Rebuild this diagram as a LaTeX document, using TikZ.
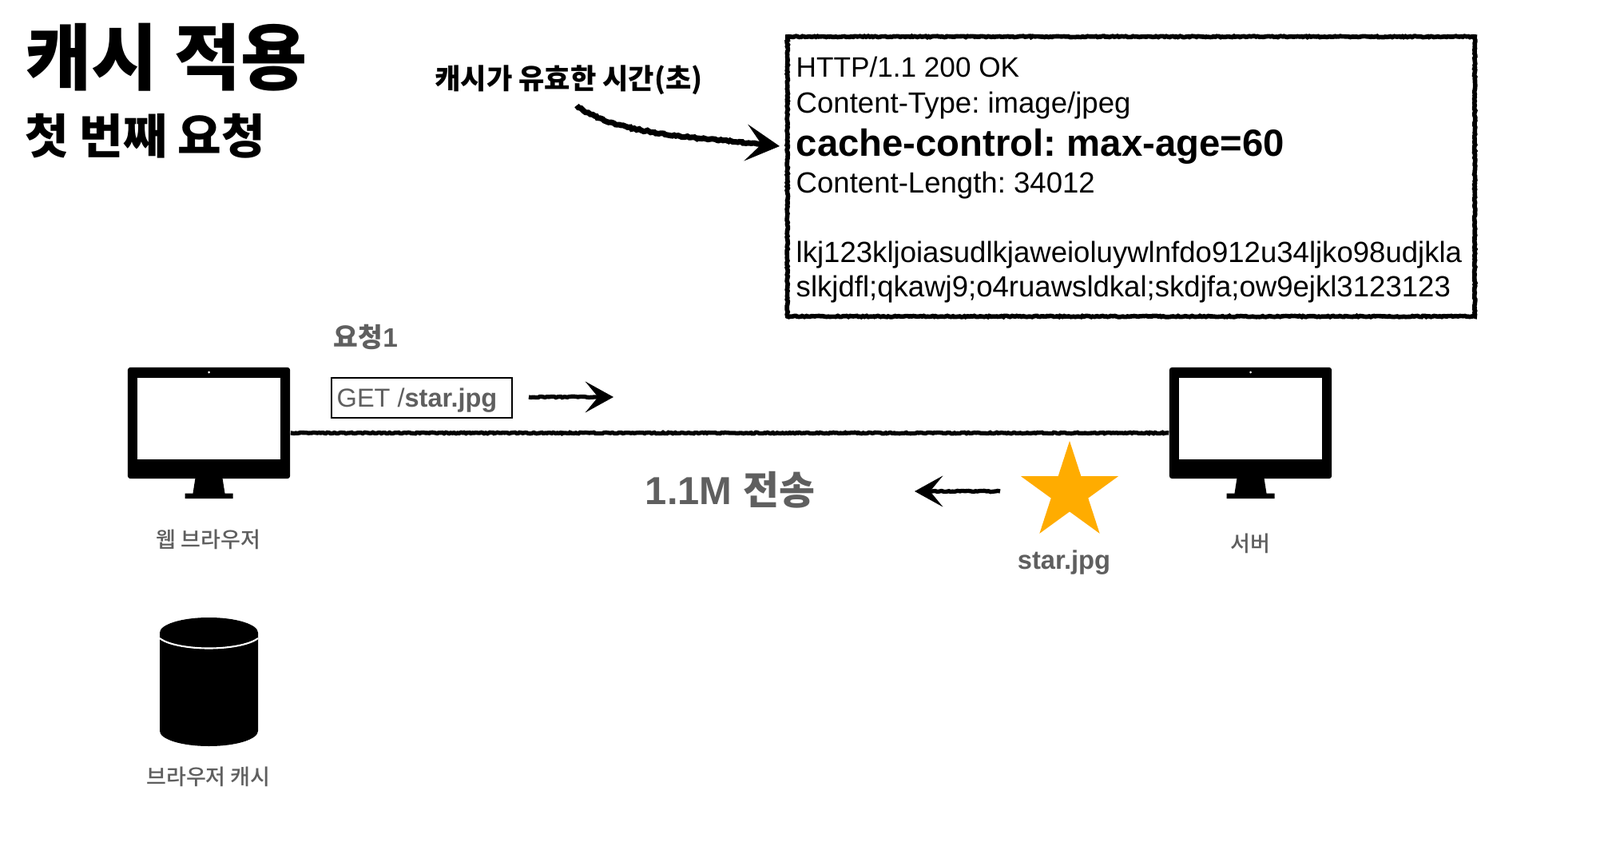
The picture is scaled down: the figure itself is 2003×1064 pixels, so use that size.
\documentclass[tikz,border=0pt]{standalone}
\usepackage{xcolor}
\usepackage{fontspec}
\usetikzlibrary{arrows.meta,positioning,shapes.geometric,decorations.pathmorphing}
\setmainfont{Liberation Sans}
\newfontfamily\kor{Noto Sans CJK KR}
\newfontfamily\korm{Noto Sans CJK KR Medium}
\definecolor{lbl}{HTML}{5F5F5F}
\definecolor{starfill}{HTML}{FFAC00}
\newcommand{\fs}[1]{\fontsize{#1}{#1}\selectfont}
\frenchspacing
\tikzset{
  panel/.style={fill=black,rounded corners=.03cm,minimum width=2.03cm,minimum height=1.39cm,inner sep=0},
  screen/.style={fill=white,minimum width=1.79cm,minimum height=1.02cm,inner sep=0},
  rough/.style={decorate,decoration={random steps,segment length=.6pt,amplitude=.2pt}},
  roughline/.style={rough,line width=1.5pt},
  roughtip/.style={line width=1.5pt,decorate,decoration={random steps,segment length=.8pt,amplitude=.2pt,post=lineto,post length=6pt},-{Stealth[length=10pt,width=11pt,inset=4.5pt]}},
  bigtip/.style={line width=2pt,decorate,decoration={random steps,segment length=.8pt,amplitude=.3pt,post=lineto,post length=8pt},-{Stealth[length=12pt,width=13pt,inset=5.5pt]}},
  resp/.style={anchor=base west,inner sep=0,font=\fs{10.4}},
  gray/.style={text=lbl,inner sep=0},
  pics/monitor/.style={code={
    \node[panel] (panel) at (0,0) {};
    \node[screen] (screen) at (0,-5.5) {};
    \fill[white] (0,-63.5) circle (.015cm);
    \fill[black] (-17,69) -- (17,69) -- (20,88) -- (30,88) -- (30,94.5) -- (-30,94.5) -- (-30,88) -- (-20,88) -- cycle;
  }}
}
\begin{document}
\begin{tikzpicture}[x=.01cm,y=-.01cm]
  \useasboundingbox[fill=white] (0,0) rectangle (2003,1064);
  \node[anchor=west,inner sep=0,font=\kor\bfseries\fs{25.7}] (title) at (31,72) {캐시 적용};
  \node[anchor=west,inner sep=0,font=\kor\bfseries\fs{16.9}] (subtitle) at (31,170) {첫 번째 요청};
  \node[inner sep=0,font=\kor\bfseries\fs{10}] (ttl) at (712,100) {캐시가 유효한 시간(초)};

  \node[draw,rough,line width=1.6pt,minimum width=8.60cm,minimum height=3.50cm,inner sep=0] (respbox) at (1416,221) {};
  \node[resp,font=\fs{10}] (status) at (996,97) {HTTP/1.1 200 OK};
  \node[resp] (ctype) at (996,142) {Content-Type: image/jpeg};
  \node[resp,font=\fs{13.45}\bfseries] (cache) at (996,196) {cache-control: max-age=60};
  \node[resp] (clen) at (996,242) {Content-Length: 34012};
  \node[resp] (body1) at (996,329) {lkj123kljoiasudlkjaweioluywlnfdo912u34ljko98udjkla};
  \node[resp] (body2) at (996,372) {slkjdfl;qkawj9;o4ruawsldkal;skdjfa;ow9ejkl3123123};

  \coordinate (ttlfrom) at (722,132);
  \coordinate (ttlto) at (976,183);
  \draw[bigtip] (ttlfrom) .. controls (770,170) and (880,172) .. (ttlto);

  \pic (browser) at (261.5,529.5) {monitor};
  \pic (server) at (1565.5,529.5) {monitor};
  \draw[roughline] ([yshift=-.125cm]browserpanel.east) -- ([yshift=-.125cm]serverpanel.west);

  \node[gray,font=\kor\bfseries\fs{9.5}] (req) at (458,422) {요청{\rmfamily 1}};
  \node[draw=black,line width=.6pt,minimum width=2.26cm,minimum height=.50cm,inner sep=0] (getbox) at (528,498) {};
  \node[gray,anchor=west,font=\fs{9.25}] (get) at (421,501) {GET /\textbf{star.jpg}};
  \coordinate (reqfrom) at (662,497);
  \coordinate (reqto) at (768,497);
  \draw[roughtip] (reqfrom) -- (reqto);

  \node[gray,font=\korm\fs{7.7}] (browserlbl) at (261,675) {웹 브라우저};
  \node[gray,font=\korm\fs{7.7}] (serverlbl) at (1565,680) {서버};

  \node[star,star points=5,star point ratio=2.618,minimum size=1.28cm,inner sep=0,fill=starfill] (starimg) at (1339,616) {};
  \node[gray,font=\fs{9.3}\bfseries] (starlbl) at (1332,704) {star.jpg};
  \coordinate (respfrom) at (1252,615);
  \coordinate (respto) at (1145,615);
  \draw[roughtip] (respfrom) -- (respto);
  \node[gray,font=\fs{13.9}\bfseries] (sent) at (914,613) {1.1M {\kor 전송}};

  \fill[black] (200,792) arc[start angle=180,end angle=360,x radius=61.5,y radius=19] -- (323,915) arc[start angle=0,end angle=180,x radius=61.5,y radius=19] -- cycle;
  \draw[white,line width=.6pt] (200,799) arc[start angle=160,end angle=20,x radius=65.4,y radius=19];
  \node[gray,font=\korm\fs{7.7}] (cachelbl) at (261,972) {브라우저 캐시};
\end{tikzpicture}
\end{document}
